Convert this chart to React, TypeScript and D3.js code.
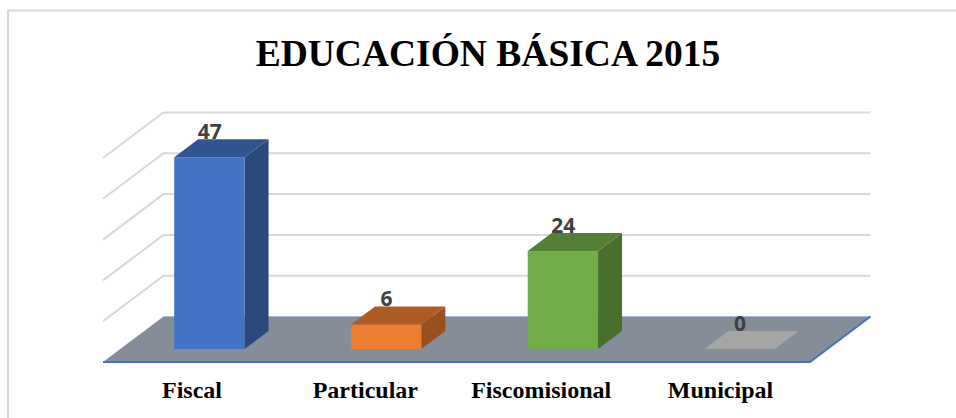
import React from "react";
import * as d3 from "d3";

const title = "EDUCACIÓN BÁSICA 2015";
const categories = ["Fiscal", "Particular", "Fiscomisional", "Municipal"];
const values = [47, 6, 24, 0];
const colors = ["#4472c4", "#ed7d31", "#70ad47", "#a5a5a5"];
const gridValues = [0, 10, 20, 30, 40, 50];
const labelNudge = [0.5, -2.5, -3, 0];

const W = 956, H = 418;
const frontLeft = 103, frontRight = 810, floorFront = 362, floorBack = 316.5;
const backShift = 60.5;
const barBase = 349;
const dx = 24, dy = 18;

const x = d3.scaleBand<string>().domain(categories).range([121, 828]).paddingInner(0.602).paddingOuter(0.301);
const labelX = d3.scalePoint<string>().domain(categories).range([191.5, 720.5]);
const y = d3.scaleLinear().domain([0, 50]).range([barBase, barBase - 204]);
const line = d3.line();
const poly = (pts: [number, number][]) => line(pts) + "Z";

export default function App() {
  const gridOffset = floorBack - y(0);
  return (
    <svg width={W} height={H} style={{ position: "absolute", left: 0, top: 0, background: "#fff" }}>
      <path d="M8 418V10.5H956" fill="none" stroke="#d9d9d9" strokeWidth={2} />
      <text x={488} y={66} textAnchor="middle" fontFamily="Liberation Serif" fontWeight="bold" fontSize={37.5} fill="#000">{title}</text>
      {gridValues.slice(1).map((v) => {
        const yb = y(v) + gridOffset;
        return <path key={v} d={line([[frontLeft, yb + (floorFront - floorBack)], [frontLeft + backShift, yb], [frontRight + backShift, yb]]) as string} fill="none" stroke="#d9d9d9" strokeWidth={2} />;
      })}
      <path d={poly([[frontLeft, floorFront], [frontLeft + backShift, floorBack], [frontRight + backShift, floorBack], [frontRight, floorFront]])} fill="#848d98" />
      <path d={line([[frontLeft + backShift, floorBack], [frontRight + backShift, floorBack]]) as string} stroke="#a9b6cf" strokeWidth={1} fill="none" />
      <path d={line([[frontLeft, floorFront], [frontRight, floorFront], [frontRight + backShift, floorBack]]) as string} stroke="#4472c4" strokeWidth={2} fill="none" />
      {categories.map((c, i) => {
        const x0 = x(c) as number, x1 = x0 + x.bandwidth();
        const y0 = y(0), yt = y(values[i]);
        const col = d3.color(colors[i]) as d3.RGBColor;
        return (
          <g key={c}>
            <text x={(x0 + x1) / 2 + 0.5} y={yt - 18.5} textAnchor="middle" fontFamily="Open Sans" fontWeight="bold" fontSize={21} fill="#404040">{values[i]}</text>
            {values[i] > 0 && <path d={poly([[x1, y0], [x1 + dx, y0 - dy], [x1 + dx, yt - dy], [x1, yt]])} fill={col.darker(1.25).formatHex()} />}
            {values[i] > 0 && <rect x={x0} y={yt} width={x1 - x0} height={y0 - yt} fill={colors[i]} />}
            <path d={poly([[x0, yt], [x0 + dx, yt - dy], [x1 + dx, yt - dy], [x1, yt]])} fill={values[i] > 0 ? col.darker(0.85).formatHex() : "#a5a5a5"} />
            <text x={(labelX(c) as number) + labelNudge[i]} y={398} textAnchor="middle" fontFamily="Liberation Serif" fontWeight="bold" fontSize={24} fill="#000">{c}</text>
          </g>
        );
      })}
    </svg>
  );
}
